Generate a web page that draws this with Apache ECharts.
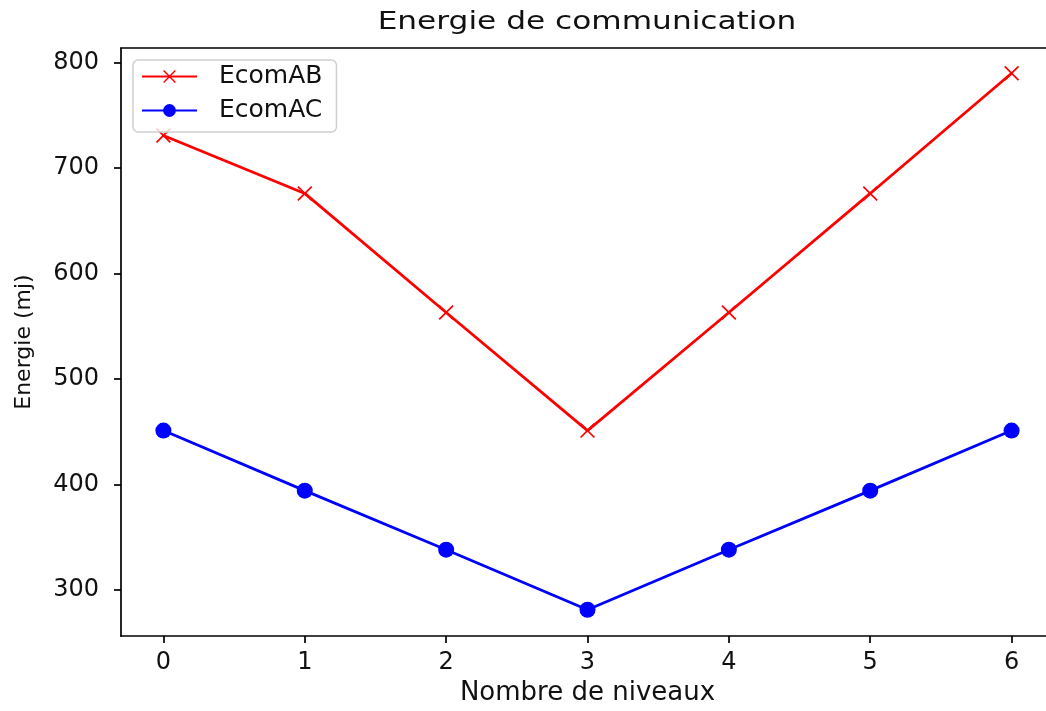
<!DOCTYPE html>
<html>
<head>
<meta charset="utf-8">
<script src="https://cdn.jsdelivr.net/npm/echarts@6/dist/echarts.min.js"></script>
<style>
html,body{margin:0;padding:0;background:#fff;overflow:hidden;}
#c{width:1046px;height:711px;}
</style>
</head>
<body>
<div id="c"></div>
<script>
const levels = [0, 1, 2, 3, 4, 5, 6];
const ecomAB = [731, 676, 563, 451, 563, 676, 790];
const ecomAC = [451, 394, 338, 281, 338, 394, 451];
const xTicks = [0, 1, 2, 3, 4, 5, 6];
const yTicks = [300, 400, 500, 600, 700, 800];
const titleText = 'Energie de communication';

const FONT = 'DejaVu Sans';
const xMark = 'path://M0,0.8L0.8,0L10,9.2L9.2,10Z M10,0.8L0.8,10L0,9.2L9.2,0Z';

// matplotlib axes span x in [-0.3, 6.3]; the picture is cropped at the right edge,
// so the visible plot area ends at 925/933 of that span.
const X_MIN = -0.3;
const X_MAX = -0.3 + 6.6 * 925 / 933;

const chart = echarts.init(document.getElementById('c'), null, {renderer: 'canvas'});
const spine = {color: '#000', width: 1.7};
chart.setOption({
  animation: false,
  backgroundColor: '#fff',
  textStyle: {fontFamily: FONT},
  graphic: [{
    type: 'text', x: 587, y: 23, scaleX: 1.3, scaleY: 1,
    style: {text: titleText, font: '24px "DejaVu Sans"', fill: '#111', textAlign: 'center', textVerticalAlign: 'middle'}
  }],
  grid: {left: 121, top: 48, right: 0, height: 596, show: false},
  legend: {
    orient: 'vertical', left: 133, top: 60,
    data: ['EcomAB', 'EcomAC'],
    itemWidth: 55, itemHeight: 16, itemGap: 9,
    padding: [4, 14, 9, 8],
    borderColor: '#d0d0d0', borderWidth: 1.5, borderRadius: 5,
    backgroundColor: 'rgba(255,255,255,0.8)',
    textStyle: {fontFamily: FONT, fontSize: 25, color: '#111', padding: [0, 0, 0, 17]}
  },
  xAxis: [{
    type: 'value', min: X_MIN, max: X_MAX, position: 'bottom',
    name: 'Nombre de niveaux', nameLocation: 'middle', nameGap: 37,
    nameTextStyle: {fontFamily: FONT, fontSize: 26, color: '#111', padding: [0, 0, 0, 8]},
    axisLine: {show: true, onZero: false, lineStyle: spine},
    axisTick: {show: true, length: 7, lineStyle: spine, customValues: xTicks},
    axisLabel: {fontFamily: FONT, fontSize: 24, color: '#111', margin: 15, customValues: xTicks},
    splitLine: {show: false}
  }, {
    type: 'value', min: X_MIN, max: X_MAX, position: 'top',
    axisLine: {show: true, onZero: false, lineStyle: spine},
    axisTick: {show: false}, axisLabel: {show: false}, splitLine: {show: false}
  }],
  yAxis: {
    type: 'value', min: 256, max: 814,
    name: 'Energie (mj)', nameLocation: 'middle', nameGap: 86, nameRotate: 90,
    nameTextStyle: {fontFamily: FONT, fontSize: 22, color: '#111'},
    axisLine: {show: true, onZero: false, lineStyle: spine},
    axisTick: {show: true, length: 7, lineStyle: spine, customValues: yTicks},
    axisLabel: {fontFamily: FONT, fontSize: 24, color: '#111', margin: 22, customValues: yTicks},
    splitLine: {show: false}
  },
  series: [
    {
      name: 'EcomAB', type: 'line', xAxisIndex: 0,
      data: levels.map((x, i) => [x, ecomAB[i]]),
      color: '#ff0000',
      lineStyle: {color: '#ff0000', width: 2.8},
      symbol: xMark, symbolSize: 15, showAllSymbol: true,
      itemStyle: {color: '#ff0000'}
    },
    {
      name: 'EcomAC', type: 'line', xAxisIndex: 0,
      data: levels.map((x, i) => [x, ecomAC[i]]),
      color: '#0000ff',
      lineStyle: {color: '#0000ff', width: 2.8},
      symbol: 'circle', symbolSize: 16, showAllSymbol: true,
      itemStyle: {color: '#0000ff'}
    }
  ]
});
</script>
</body>
</html>
